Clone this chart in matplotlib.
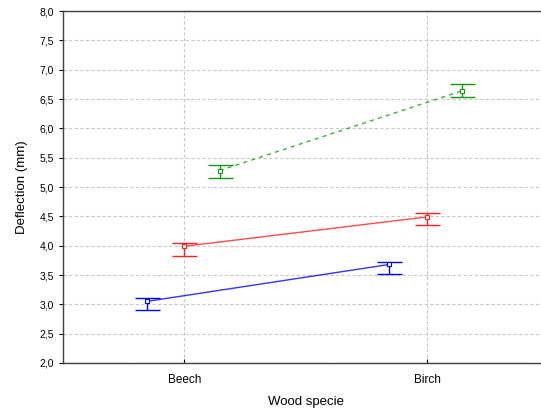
import matplotlib
matplotlib.use("Agg")
import matplotlib.pyplot as plt
import numpy as np
from matplotlib.ticker import FuncFormatter

plt.rcParams['font.family'] = ['Liberation Sans', 'DejaVu Sans']

# data
species = ["Beech", "Birch"]
blue_mean = [3.05, 3.68]
blue_lo = [2.90, 3.51]
blue_hi = [3.10, 3.72]
red_mean = [3.99, 4.49]
red_lo = [3.82, 4.35]
red_hi = [4.04, 4.56]
green_mean = [5.28, 6.64]
green_lo = [5.16, 6.54]
green_hi = [5.38, 6.75]

fig = plt.figure(figsize=(5.41, 4.11), dpi=100)
ax = fig.add_axes([0.1165, 0.1168, 0.897, 0.8564])

x = np.arange(len(species))
series = [
    (blue_mean, blue_lo, blue_hi, -0.155, "#0000ff", "-"),
    (red_mean, red_lo, red_hi, 0.0, "#ff2020", "-"),
    (green_mean, green_lo, green_hi, 0.145, "#119911", (0, (3, 3))),
]
for mean, lo, hi, off, col, ls in series:
    mean = np.array(mean)
    err = [mean - np.array(lo), np.array(hi) - mean]
    ax.plot(x + off, mean, color=col, linestyle=ls, linewidth=1.0, alpha=0.8, zorder=3)
    ax.errorbar(x + off, mean, yerr=err, fmt="none", ecolor=col,
                elinewidth=1.0, capsize=9, capthick=1.0, zorder=4)
    ax.plot(x + off, mean, linestyle="none", marker="s", markersize=3,
            markerfacecolor="white", markeredgecolor=col, markeredgewidth=0.8, zorder=5)

ax.set_xlim(-0.5, 1.5)
ax.set_ylim(2.0, 8.0)
ax.set_yticks(np.arange(2.0, 8.01, 0.5))
ax.yaxis.set_major_formatter(FuncFormatter(lambda v, p: f"{v:.1f}".replace(".", ",")))
ax.set_xticks(x)
ax.set_xticklabels(species, fontsize=8.5)
ax.tick_params(axis="y", labelsize=7.5, direction="out", length=3, width=0.8)
ax.tick_params(axis="x", direction="in", length=3, width=0.8, pad=8)
ax.grid(True, color="#c8c8c8", linestyle=(0, (3, 2)), linewidth=0.8)
ax.set_axisbelow(True)
for s in ax.spines.values():
    s.set_color("#404040")
    s.set_linewidth(1.0)

ax.set_xlabel("Wood specie", fontsize=9.5, labelpad=7)
ax.set_ylabel("Deflection (mm)", fontsize=9.5, labelpad=8)

fig.savefig("out.png", dpi=100)
